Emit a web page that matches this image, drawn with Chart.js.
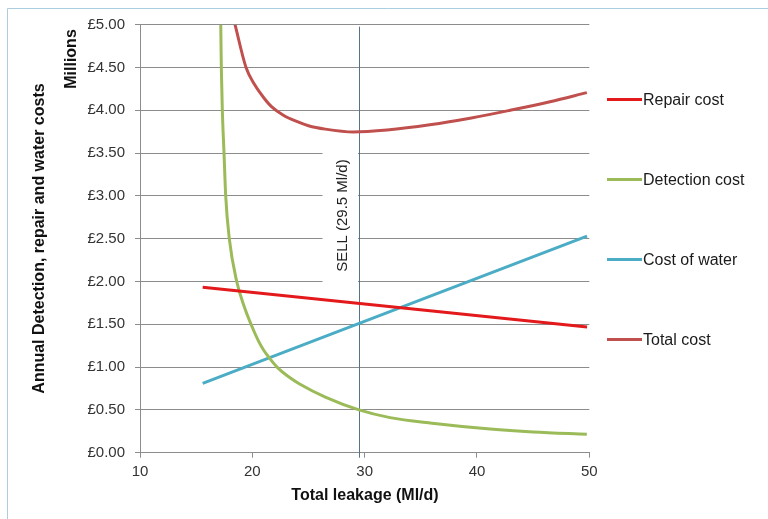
<!DOCTYPE html>
<html>
<head>
<meta charset="utf-8">
<script src="https://cdn.jsdelivr.net/npm/chart.js@4/dist/chart.umd.min.js"></script>
<style>
  html, body { margin: 0; padding: 0; background: #fff; }
  #wrap { position: relative; width: 768px; height: 519px; }
</style>
</head>
<body>
<div id="wrap"><canvas id="c" width="768" height="519"></canvas></div>
<script>
// Leakage (Ml/d) and annual cost (£ millions) for each series
const seriesNames = ['Repair cost', 'Detection cost', 'Cost of water', 'Total cost'];

const repairLeakage = [15.58, 49.8];
const repairCost    = [1.932, 1.468];

const detectionLeakage = [17.19, 17.24, 17.33, 17.48, 17.63, 17.95, 18.61, 19.3, 19.95, 20.53, 21.0, 21.5, 22.2, 23.2, 24.25, 26.5, 29.5, 32.26, 36.0, 41.17, 45.0, 49.78];
const detectionCost    = [5.0,   4.5,   4.0,   3.5,   3.0,   2.5,   2.0,   1.7,  1.48,  1.31,  1.2,  1.11, 1.0,  0.89, 0.80,  0.65, 0.5,  0.41,  0.345, 0.277, 0.243, 0.216];

const waterLeakage = [15.58, 49.8];
const waterCost    = [0.81, 2.53];

const totalLeakage = [18.46, 19.44, 20.2, 21.0, 21.73, 22.8, 23.95, 25.0, 26.5, 29.0, 32.0, 35.8, 39.5, 42.95, 46.5, 49.78];
const totalCost    = [5.0,   4.5,   4.3,  4.15, 4.04,  3.94, 3.87,  3.82, 3.78, 3.747, 3.77, 3.83, 3.91, 4.0,  4.1,  4.206];

// Sustainable economic level of leakage
const sellLeakage = 29.5;

// Axis ranges and tick steps
const xRange = [10, 50], xStep = 10;
const yRange = [0, 5], yStep = 0.5;

const colors = ['#e3191c', '#9bbb59', '#4bacc6', '#c0504d'];
const FONT = '"Liberation Sans", Arial, Helvetica, sans-serif';
const GRID = '#8c8c8c';

const toPoints = (xs, ys) => xs.map((x, i) => ({ x: x, y: ys[i] }));

const seriesData = [
  toPoints(repairLeakage, repairCost),
  toPoints(detectionLeakage, detectionCost),
  toPoints(waterLeakage, waterCost),
  toPoints(totalLeakage, totalCost)
];

const decorations = {
  id: 'decorations',
  beforeDatasetsDraw(chart) {
    const { ctx, scales: { x, y }, chartArea } = chart;
    const sx = Math.round(x.getPixelForValue(sellLeakage)) + 0.5;
    const cy = y.getPixelForValue(2.77);
    ctx.save();
    // white backing for the SELL label
    ctx.fillStyle = '#ffffff';
    ctx.fillRect(sx - 37, cy - 71, 35.5, 145);
    // SELL marker line
    ctx.strokeStyle = '#56728a';
    ctx.lineWidth = 1;
    ctx.beginPath();
    ctx.moveTo(sx, chartArea.top + 2);
    ctx.lineTo(sx, chartArea.bottom + 5);
    ctx.stroke();
    // SELL label
    ctx.translate(sx - 17, cy);
    ctx.rotate(-Math.PI / 2);
    ctx.font = '15px ' + FONT;
    ctx.fillStyle = '#222';
    ctx.textAlign = 'center';
    ctx.textBaseline = 'middle';
    ctx.fillText('SELL (' + sellLeakage + ' Ml/d)', 0, 0);
    ctx.restore();
  },
  afterDraw(chart) {
    const { ctx } = chart;
    ctx.save();
    // outer frame
    ctx.strokeStyle = '#aacde0';
    ctx.lineWidth = 1;
    ctx.beginPath();
    ctx.moveTo(7.5, 519);
    ctx.lineTo(7.5, 8.5);
    ctx.lineTo(768, 8.5);
    ctx.stroke();

    // axis titles
    ctx.fillStyle = '#111';
    ctx.font = 'bold 16px ' + FONT;
    ctx.textAlign = 'center';
    ctx.textBaseline = 'middle';
    ctx.fillText('Total leakage (Ml/d)', 365, 496);

    ctx.save();
    ctx.translate(40, 238.5);
    ctx.rotate(-Math.PI / 2);
    ctx.fillText('Annual Detection, repair and water costs', 0, 0);
    ctx.restore();

    ctx.save();
    ctx.translate(72, 59);
    ctx.rotate(-Math.PI / 2);
    ctx.fillText('Millions', 0, 0);
    ctx.restore();

    // legend
    ctx.font = '16px ' + FONT;
    ctx.textAlign = 'left';
    chart.data.datasets.forEach((ds, i) => {
      const ly = 99.5 + 80 * i;
      ctx.strokeStyle = ds.borderColor;
      ctx.lineWidth = 3;
      ctx.beginPath();
      ctx.moveTo(607, ly);
      ctx.lineTo(642, ly);
      ctx.stroke();
      ctx.fillStyle = '#1a1a1a';
      ctx.fillText(ds.label, 643, ly + 1);
    });
    ctx.restore();
  }
};

new Chart(document.getElementById('c'), {
  type: 'scatter',
  data: {
    datasets: seriesNames.map((name, i) => ({
      label: name,
      data: seriesData[i],
      showLine: true,
      borderColor: colors[i],
      backgroundColor: colors[i],
      borderWidth: 3,
      pointRadius: 0,
      pointHoverRadius: 0,
      cubicInterpolationMode: 'monotone',
      fill: false
    }))
  },
  options: {
    responsive: false,
    animation: false,
    events: [],
    layout: { padding: { left: 0, top: 24.7, right: 178.7, bottom: 0 } },
    plugins: { legend: { display: false }, tooltip: { enabled: false } },
    scales: {
      x: {
        type: 'linear',
        min: xRange[0], max: xRange[1],
        afterFit: s => { s.height = 519 - 452.7; },
        ticks: { stepSize: xStep, color: '#333', padding: 5, font: { family: FONT, size: 15 } },
        grid: { drawOnChartArea: false, drawTicks: true, tickLength: 5, color: GRID },
        border: { color: GRID, width: 1 }
      },
      y: {
        type: 'linear',
        min: yRange[0], max: yRange[1],
        afterFit: s => { s.width = 140; },
        ticks: {
          stepSize: yStep, color: '#333', padding: 10,
          font: { family: FONT, size: 15 },
          callback: v => '£' + Number(v).toFixed(2)
        },
        grid: { color: GRID, tickLength: 5 },
        border: { color: GRID, width: 1 }
      }
    }
  },
  plugins: [decorations]
});
</script>
</body>
</html>
